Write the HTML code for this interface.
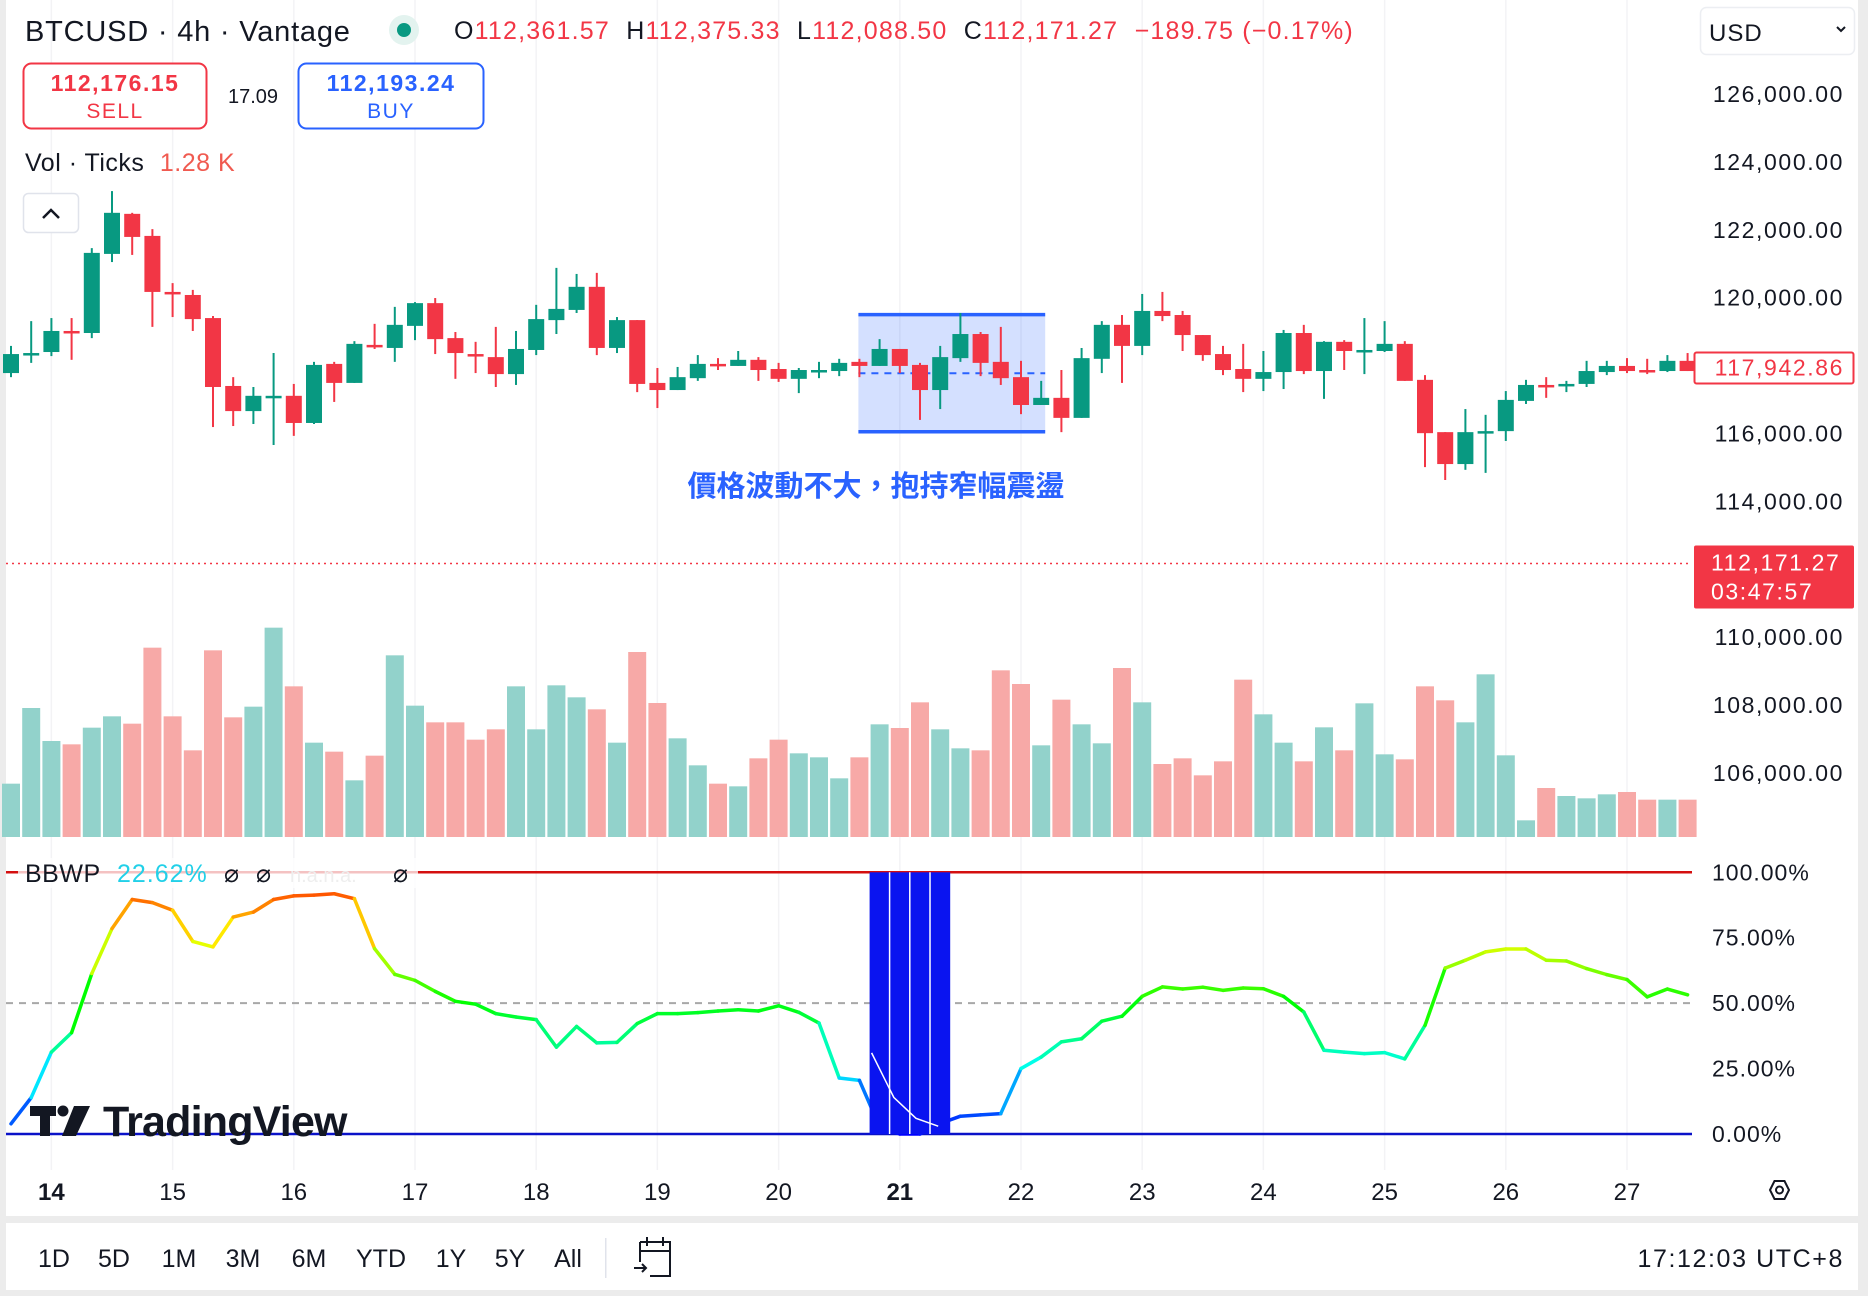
<!DOCTYPE html>
<html><head><meta charset="utf-8"><style>
html,body{margin:0;padding:0;background:#fff;width:1868px;height:1296px;overflow:hidden;font-family:"Liberation Sans","Noto Sans CJK TC",sans-serif;}
svg{display:block}
</style></head><body>
<svg id="chart" width="1868" height="1296" viewBox="0 0 1868 1296" xmlns="http://www.w3.org/2000/svg">
<rect x="0" y="0" width="1868" height="1296" fill="#fff"/>
<rect x="0" y="0" width="6" height="1296" fill="#ececec"/>
<rect x="1858" y="0" width="10" height="1296" fill="#ececec"/>
<rect x="0" y="1216" width="1868" height="7" fill="#ececec"/>
<rect x="0" y="1290" width="1868" height="6" fill="#ececec"/>
<g id="grid"></g>
<g id="volumes"></g>
<g id="rangebox"></g>
<g id="candles"></g>
<g id="bbwp"></g>
<g id="overlay"></g>
<g id="axes" font-family="Liberation Sans, sans-serif"></g>

<!-- header -->
<text x="25" y="41" font-size="29" fill="#131722" letter-spacing="0.8">BTCUSD · 4h · Vantage</text>
<circle cx="404" cy="30" r="15" fill="#e3f3ef"/>
<circle cx="404" cy="30" r="7" fill="#089981"/>
<g font-size="25">
<text x="454" y="39" fill="#131722" letter-spacing="1.2" xml:space="preserve">O<tspan fill="#f23645">112,361.57</tspan>  H<tspan fill="#f23645">112,375.33</tspan>  L<tspan fill="#f23645">112,088.50</tspan>  C<tspan fill="#f23645">112,171.27</tspan>  <tspan fill="#f23645">−189.75 (−0.17%)</tspan></text>
</g>
<g>
<rect x="23.5" y="63.5" width="183" height="65" rx="8" fill="#fff" stroke="#f23645" stroke-width="2"/>
<text x="115" y="91" font-size="23" font-weight="bold" fill="#f23645" text-anchor="middle" letter-spacing="1.5">112,176.15</text>
<text x="115" y="118" font-size="21" fill="#f23645" text-anchor="middle" letter-spacing="1.5">SELL</text>
</g>
<text x="253" y="103" font-size="20" fill="#131722" text-anchor="middle">17.09</text>
<g>
<rect x="298.5" y="63.5" width="185" height="65" rx="8" fill="#fff" stroke="#2962ff" stroke-width="2"/>
<text x="391" y="91" font-size="23" font-weight="bold" fill="#2962ff" text-anchor="middle" letter-spacing="1.5">112,193.24</text>
<text x="391" y="118" font-size="21" fill="#2962ff" text-anchor="middle" letter-spacing="1.5">BUY</text>
</g>
<text x="25" y="171" font-size="25" fill="#131722" letter-spacing="0.5">Vol · Ticks <tspan fill="#f05a50" dx="8">1.28 K</tspan></text>
<g>
<rect x="23.5" y="193.5" width="55" height="39" rx="5" fill="#fff" stroke="#e0e3eb" stroke-width="1.5"/>
<path d="M43 218 L51 210 L59 218" fill="none" stroke="#131722" stroke-width="2.5"/>
</g>
<g>
<rect x="1700.5" y="7.5" width="154" height="47" rx="6" fill="#fff" stroke="#eceef2" stroke-width="1.5"/>
<text x="1709" y="41" font-size="24" fill="#131722" letter-spacing="1">USD</text>
<path d="M1837 27 L1841 31 L1845 27" fill="none" stroke="#131722" stroke-width="2"/>
</g>

<text x="876" y="496" font-size="29" font-weight="bold" fill="#2962ff" text-anchor="middle" font-family="Liberation Sans, Noto Sans CJK TC, sans-serif">價格波動不大，抱持窄幅震盪</text>

<!-- BBWP header -->
<rect x="18" y="858" width="400" height="30" fill="#fff" opacity="0.75"/>
<g font-size="25">
<text x="25" y="882" fill="#131722" letter-spacing="0.5">BBWP</text>
<text x="117" y="882" fill="#22d0e8" letter-spacing="1">22.62%</text>
<text x="224" y="882" fill="#131722">⌀</text>
<text x="256" y="882" fill="#131722">⌀</text>
<text x="290" y="882" fill="#eeeeee" font-size="20">n.a.n.a.</text>
<text x="393" y="882" fill="#131722">⌀</text>
</g>

<!-- TradingView logo -->
<g>
<rect x="30" y="1106" width="26" height="10" fill="#131722"/>
<rect x="40" y="1106" width="10" height="30" fill="#131722"/>
<circle cx="63" cy="1111" r="5.5" fill="#131722"/>
<path d="M74 1106 L90 1106 L76 1136 L62 1136 Z" fill="#131722"/>
<text x="103" y="1136" font-size="43" font-weight="bold" fill="#131722" letter-spacing="-0.8">TradingView</text>
</g>

<!-- bottom toolbar -->
<g font-size="25" fill="#131722">
<text x="54" y="1267" text-anchor="middle">1D</text>
<text x="114" y="1267" text-anchor="middle">5D</text>
<text x="179" y="1267" text-anchor="middle">1M</text>
<text x="243" y="1267" text-anchor="middle">3M</text>
<text x="309" y="1267" text-anchor="middle">6M</text>
<text x="381" y="1267" text-anchor="middle">YTD</text>
<text x="451" y="1267" text-anchor="middle">1Y</text>
<text x="510" y="1267" text-anchor="middle">5Y</text>
<text x="568" y="1267" text-anchor="middle">All</text>
<text x="1844" y="1267" text-anchor="end" letter-spacing="1.6">17:12:03 UTC+8</text>
</g>
<rect x="605" y="1238" width="1.5" height="40" fill="#e0e3eb"/>
<g fill="none" stroke="#131722" stroke-width="2">
<path d="M640 1242 H670 V1276 H650 M640 1262 V1242 M640 1251 H670 M647 1237 V1246 M663 1237 V1246"/>
<path d="M634 1268 H646 M642 1264 L646 1268 L642 1272"/>
</g>
<g fill="none" stroke="#131722" stroke-width="2">
<path d="M1770 1190 L1774.5 1181 L1784.5 1181 L1789 1190 L1784.5 1199 L1774.5 1199 Z"/>
<circle cx="1779.5" cy="1190" r="3.5"/>
</g>
</svg>
<script>
// ---- data ----
const dayLabels = ["14","15","16","17","18","19","20","21","22","23","24","25","26","27"];
const priceTicks = [126000,124000,122000,120000,118000,116000,114000,110000,108000,106000];
const bbwpTicks = [100,75,50,25,0];
const opens  = [117780,118340,118400,119020,118960,121290,122470,121820,120170,120080,119400,117400,116660,117080,117110,116310,118050,117490,118610,118520,119170,119840,118810,118340,118250,117750,118460,119340,119640,120320,118520,119340,117490,117280,117630,118050,117990,118170,117900,117610,117840,117840,118110,117990,118490,118020,117280,118220,118930,118110,117660,116840,117050,116460,118200,119200,118580,119610,119490,118900,118340,117900,117610,117810,118960,117840,118700,118430,118430,118640,117580,116040,115100,116040,116070,116960,117430,117430,117460,117810,117990,117870,117840,118140];
const highs  = [118580,119310,119400,119400,121460,123140,122500,122020,120430,120230,119460,117660,117370,118370,117460,118110,118110,118720,119230,119730,119870,119990,118990,118700,119140,119020,119790,120880,120700,120730,119430,119340,117930,117960,118310,118220,118430,118250,118080,117930,118110,118200,118200,118780,118490,118080,118580,119550,118990,119140,118140,117550,117870,118520,119310,119490,120110,120170,119610,118900,118580,118640,118430,119050,119200,118720,118750,119400,119310,118720,117720,116040,116720,116550,117250,117580,117660,117550,118140,118140,118220,118200,118310,118370];
const lows   = [117660,118080,118280,118170,118810,121050,121260,119140,119430,119020,116190,116220,116280,115660,115930,116280,116930,117490,118490,118110,118750,118340,117610,117780,117370,117430,118310,118930,119550,118310,118370,117220,116750,117280,117550,117870,117990,117550,117520,117190,117630,117690,117660,117990,117780,116400,116720,118110,117690,117430,116570,116840,116040,116460,117780,117490,118310,119310,118430,118140,117720,117220,117250,117310,117750,117020,117870,117750,118400,117550,115010,114630,114930,114840,115780,116870,117050,117220,117370,117720,117780,117750,117810,117840];
const closes = [118340,118370,119020,118990,121320,122500,121790,120170,120140,119370,117370,116660,117110,117110,116310,118020,117490,118640,118580,119200,119840,118780,118370,118310,117750,118490,119370,119670,120320,118520,119340,117460,117280,117660,118050,118020,118170,117870,117610,117870,117870,118080,117990,118490,117990,117280,118250,118930,118080,117630,116840,117050,116460,118220,119200,118580,119610,119460,118900,118310,117870,117610,117810,118960,117840,118700,118430,118460,118640,117550,116010,115100,116040,116070,116990,117430,117400,117460,117840,117990,117840,117840,118140,117840];
const volumes = [160,387,288,278,328,362,340,568,362,260,560,359,391,628,452,283,256,170,244,545,394,344,344,292,323,452,323,455,419,383,283,555,402,296,215,160,152,236,292,251,239,176,239,338,327,404,323,266,260,500,459,275,412,338,281,507,404,219,236,185,227,472,368,283,227,329,260,401,248,233,452,410,344,488,245,50,147,123,116,128,135,112,112,112];
const bbwp = [3.9,13.9,31.3,38.7,61.3,78.5,89.6,88.4,85.5,73.6,71.5,82.9,84.8,89.6,91.0,91.3,91.8,89.9,70.8,61.0,58.7,54.5,50.7,49.6,46.0,44.7,43.7,33.2,41.1,34.8,35.0,42.2,46.0,46.0,46.4,47.0,47.5,47.0,49.0,46.5,42.4,21.4,20.5,2.7,0,0,4.0,6.8,7.3,7.8,25.0,29.4,35.2,36.4,43.1,45.0,52.6,56.2,55.4,56.1,54.9,55.8,55.5,52.6,46.6,32.0,31.3,30.7,31.1,28.7,41.5,63.4,66.4,69.6,70.7,70.7,66.4,66.1,63.2,60.9,59.0,52.4,55.4,53.2];
const signalIdx = [43,44,45,46];
const signalVals = [31,14,6,3];
const boxStart = 42, boxEnd = 51, rangeHigh = 119500, rangeLow = 116050;
const sigStart = 43, sigEnd = 46;
const lastPrice = 117942.86, livePrice = 112171.27;

// ---- scales ----
const X = i => 11 + 20.2 * i;
const YP = p => 94 + (126000 - p) * 0.03395;
const VH = v => v / 3;
const VBASE = 837;
const YB = v => 1134 - v * 2.617;
const NS = "http://www.w3.org/2000/svg";
function mk(tag, attrs, parent) { const e = document.createElementNS(NS, tag); for (const k in attrs) e.setAttribute(k, attrs[k]); parent.appendChild(e); return e; }
const G = id => document.getElementById(id);
const green = "#089981", red = "#f23645";

// grid
dayLabels.forEach((d, k) => {
  const x = X(2 + 6 * k);
  const l = mk("line", {x1: x, x2: x, y1: 0, y2: 1170, stroke: "#f3f3f5", "stroke-width": 1.5}, G("grid"));
  
  
});

// volumes
volumes.forEach((v, i) => {
  const up = closes[i] >= opens[i];
  const r = mk("rect", {x: X(i) - 9, y: VBASE - VH(v), width: 18, height: VH(v), fill: up ? "#92d2cb" : "#f7a9a7"}, G("volumes"));
  
  
});

// range box
{
  const x0 = X(boxStart) - 1, x1 = X(boxEnd) + 4, y0 = YP(rangeHigh), y1 = YP(rangeLow);
  const g = G("rangebox");
  const r = mk("rect", {x: x0, y: y0, width: x1 - x0, height: y1 - y0, fill: "rgba(41,98,255,0.2)"}, g);
  
  
  mk("line", {x1: x0, x2: x1, y1: y0, y2: y0, stroke: "#2962ff", "stroke-width": 3.5}, g);
  mk("line", {x1: x0, x2: x1, y1: y1, y2: y1, stroke: "#2962ff", "stroke-width": 3.5}, g);
  mk("line", {x1: x0, x2: x1, y1: (y0 + y1) / 2, y2: (y0 + y1) / 2, stroke: "#2962ff", "stroke-width": 2, "stroke-dasharray": "7 6"}, g);
}

// candles
opens.forEach((o, i) => {
  const c = closes[i], up = c >= o, col = up ? green : red;
  const g = mk("g", {}, G("candles"));
  
  
  mk("line", {x1: X(i), x2: X(i), y1: YP(highs[i]), y2: YP(lows[i]), stroke: col, "stroke-width": 2}, g);
  const top = YP(Math.max(o, c)), h = Math.max(2.5, Math.abs(YP(o) - YP(c)));
  mk("rect", {x: X(i) - 8, y: top, width: 16, height: h, fill: col}, g);
});

// price lines
{
  const g = G("overlay");
  const l = mk("line", {x1: 6, x2: 1692, y1: YP(livePrice), y2: YP(livePrice), stroke: red, "stroke-width": 1.5, "stroke-dasharray": "2 4"}, g);
  
  
}

// BBWP
{
  const g = G("bbwp");
  mk("line", {x1: 6, x2: 1692, y1: YB(100), y2: YB(100), stroke: "#d40f0f", "stroke-width": 2.5}, g);
  mk("line", {x1: 6, x2: 1692, y1: YB(50), y2: YB(50), stroke: "#a8a8a8", "stroke-width": 2, "stroke-dasharray": "7 6"}, g);
  mk("line", {x1: 6, x2: 1692, y1: YB(0), y2: YB(0), stroke: "#0a12c8", "stroke-width": 2.5}, g);
  for (let i = 0; i < bbwp.length - 1; i++) {
    const avg = (bbwp[i] + bbwp[i + 1]) / 2;
    const hue = Math.max(0, 240 - avg * 2.4);
    const s = mk("line", {x1: X(i), y1: YB(bbwp[i]), x2: X(i + 1), y2: YB(bbwp[i + 1]), stroke: `hsl(${hue},100%,50%)`, "stroke-width": 3.5, "stroke-linecap": "round"}, g);
    
    
  }
  const x0 = X(sigStart) - 10, x1 = X(sigEnd) + 10;
  const b = mk("rect", {x: x0, y: YB(100), width: x1 - x0, height: YB(0) - YB(100), fill: "#0a14f0"}, g);
  
  
  for (let i = sigStart; i < sigEnd; i++) mk("line", {x1: X(i) + 10, x2: X(i) + 10, y1: YB(100), y2: YB(0), stroke: "#fff", "stroke-width": 1.5}, g);
  const pts = signalIdx.map((k, j) => `${X(k) - 8 + j * 2},${YB(signalVals[j])}`).join(" ");
  const pl = mk("polyline", {points: pts, fill: "none", stroke: "#fff", "stroke-width": 1.5}, g);
  
  
}

// axes
{
  const g = G("axes");
  priceTicks.forEach(p => {
    const t = mk("text", {x: 1844, y: YP(p) + 8, "font-size": 23, fill: "#131722", "text-anchor": "end", "letter-spacing": "1.6"}, g);
    t.textContent = p.toLocaleString("en-US") + ".00";
    
    
  });
  bbwpTicks.forEach(v => {
    const t = mk("text", {x: 1712, y: YB(v) + 8, "font-size": 23, fill: "#131722", "text-anchor": "start", "letter-spacing": "1"}, g);
    t.textContent = v.toFixed(2) + "%";
    
    
  });
  dayLabels.forEach((d, k) => {
    const t = mk("text", {x: X(2 + 6 * k), y: 1200, "font-size": 24, fill: "#131722", "text-anchor": "middle", "font-weight": (d === "14" || d === "21") ? "bold" : "normal"}, g);
    t.textContent = d;
    
    
  });
  // last price box
  const yl = YP(lastPrice);
  mk("rect", {x: 1694.5, y: yl - 15, width: 159, height: 31, fill: "#fff", stroke: red, "stroke-width": 2, rx: 2}, g);
  const lt = mk("text", {x: 1844, y: yl + 8, "font-size": 23, fill: red, "text-anchor": "end", "letter-spacing": "1.6"}, g);
  lt.textContent = lastPrice.toLocaleString("en-US", {minimumFractionDigits: 2});
  
  
  // live price box
  const yv = YP(livePrice);
  const lb = mk("rect", {x: 1694, y: yv - 18, width: 160, height: 63, fill: red, rx: 2}, g);
  
  
  const t1 = mk("text", {x: 1711, y: yv + 7, "font-size": 23, fill: "#fff", "letter-spacing": "1.6"}, g);
  t1.textContent = livePrice.toLocaleString("en-US", {minimumFractionDigits: 2});
  const t2 = mk("text", {x: 1711, y: yv + 36, "font-size": 23, fill: "#fff", "letter-spacing": "1.6"}, g);
  t2.textContent = "03:47:57";
}
</script>
</body></html>
